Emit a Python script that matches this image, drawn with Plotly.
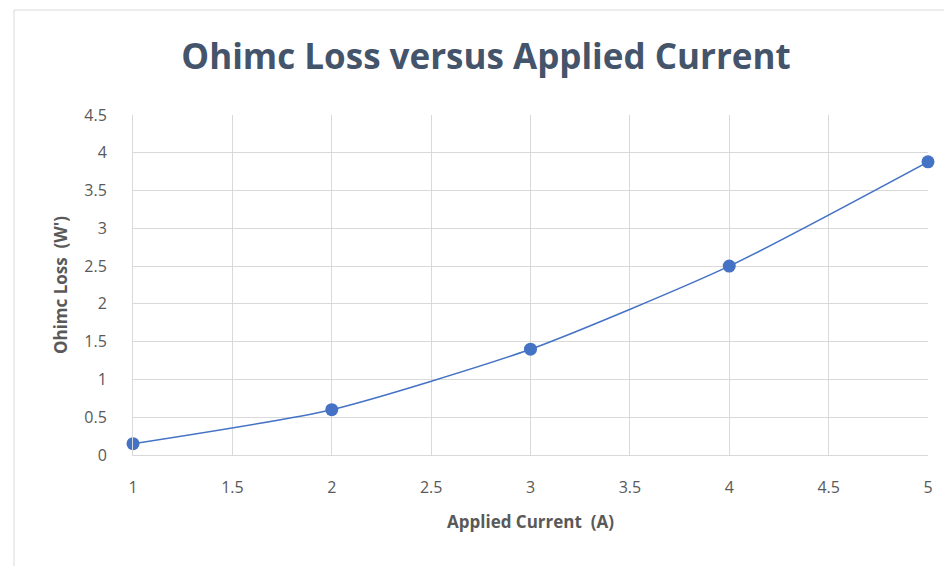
import plotly.graph_objects as go

current = [1, 2, 3, 4, 5]
ohmic_loss = [0.15, 0.60, 1.40, 2.50, 3.88]
x_ticks = [1, 1.5, 2, 2.5, 3, 3.5, 4, 4.5, 5]
y_ticks = [0, 0.5, 1, 1.5, 2, 2.5, 3, 3.5, 4, 4.5]

# page body has an 8px margin, so the figure is drawn 8px in from the window edge
OFF = 8
W, H = 952 - OFF, 566 - OFF
L, T = 133 - OFF, 115 - OFF
R = W - (928 - OFF)
B = H - (455 - OFF)
pw, ph = W - L - R, H - T - B

def px(x):
    return (x - OFF - L) / pw

def py(y):
    return (H - B - (y - OFF)) / ph

fig = go.Figure()
fig.add_trace(go.Scatter(
    x=current, y=ohmic_loss, mode="lines+markers",
    line=dict(color="#4472C4", width=1.5, shape="spline", smoothing=0.6),
    marker=dict(color="#4472C4", size=13),
    cliponaxis=False, showlegend=False,
))

font = "Open Sans, Noto Sans, sans-serif"
fig.update_layout(
    width=W, height=H,
    margin=dict(l=L, r=R, t=T, b=B),
    paper_bgcolor="white", plot_bgcolor="white",
    font=dict(family=font, color="#595959", size=16),
    title=dict(text="<b>Ohimc Loss versus Applied Current</b>", x=(486 - OFF) / W, xanchor="center",
               y=1 - (57 - OFF) / H, yanchor="middle",
               font=dict(size=35, color="#44546A", family=font)),
    xaxis=dict(range=[1, 5], tickvals=x_ticks, ticktext=[str(v) for v in x_ticks],
               showgrid=True, gridcolor="#D9D9D9", gridwidth=1, zeroline=False,
               showline=True, linecolor="#D9D9D9", ticks="", ticklabelstandoff=18,
               title=dict(text="<b>Applied Current  (A)</b>", standoff=18,
                          font=dict(size=17, color="#595959"))),
    yaxis=dict(range=[0, 4.5], tickvals=y_ticks, ticktext=[str(v) for v in y_ticks],
               showgrid=True, gridcolor="#D9D9D9", gridwidth=1, zeroline=False,
               showline=True, linecolor="#D9D9D9", ticks="", ticklabelstandoff=22,
               title=dict(text="<b>Ohimc Loss  (W')</b>", standoff=12,
                          font=dict(size=17, color="#595959"))),
)
fig.add_shape(type="rect", xref="paper", yref="paper",
              x0=px(14), x1=px(975), y0=py(585), y1=py(10),
              line=dict(color="#D9D9D9", width=1), fillcolor="rgba(0,0,0,0)", layer="below")

fig.write_html("out.html")
